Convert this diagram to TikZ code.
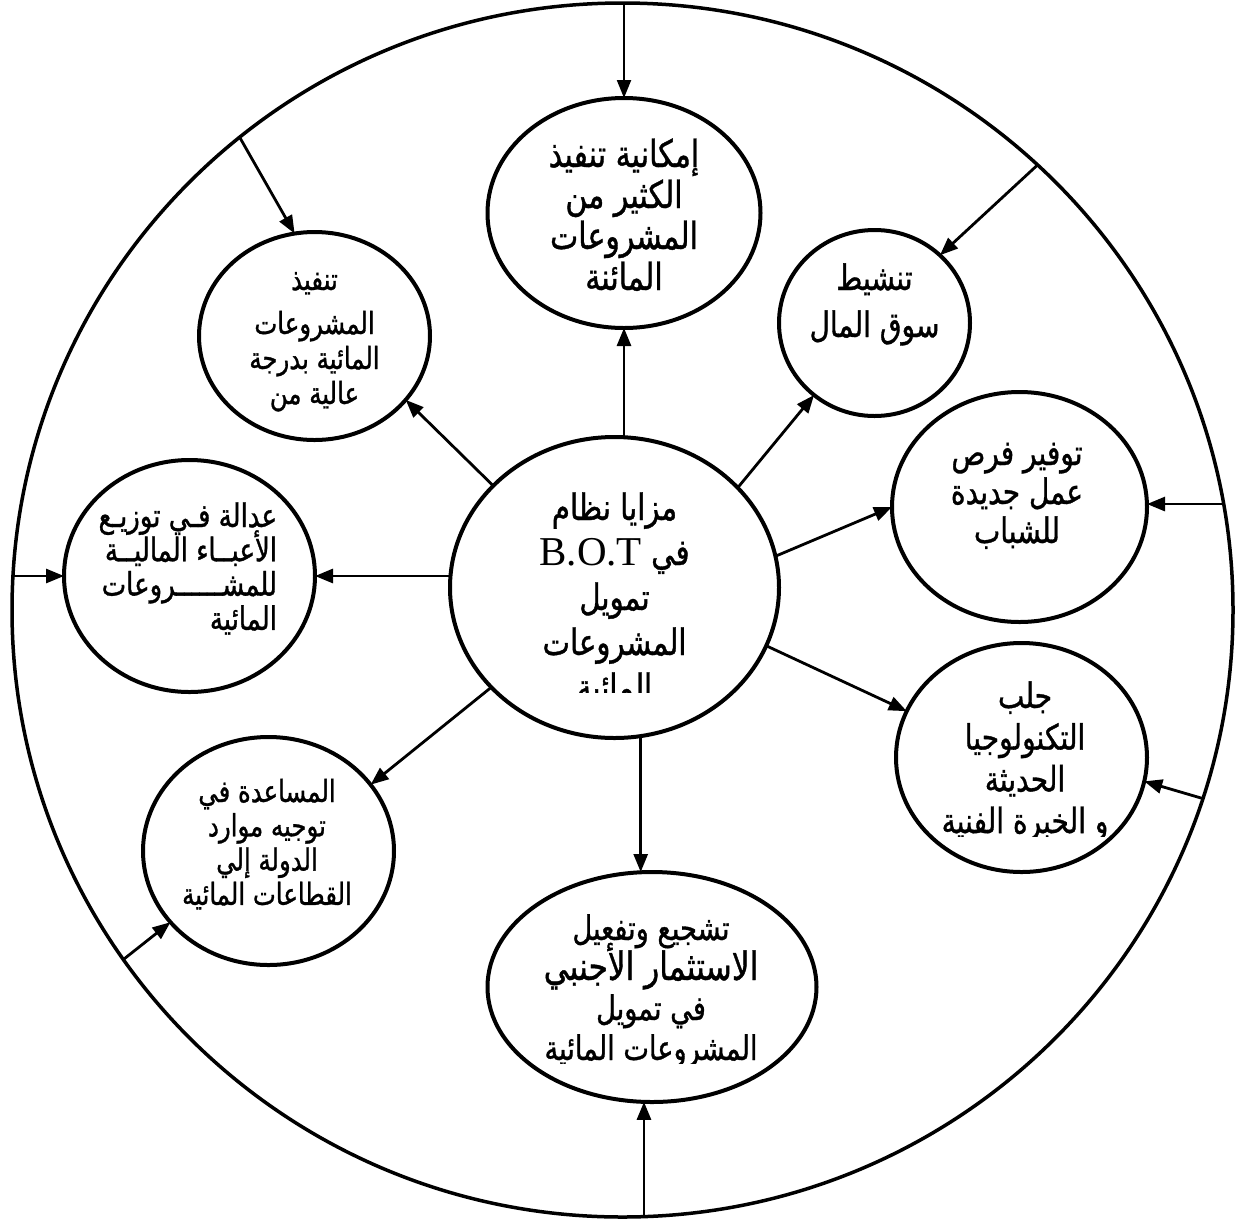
\documentclass[tikz,border=0pt]{standalone}
\usepackage{fontspec}
\usetikzlibrary{shapes.geometric,arrows.meta}
\newfontfamily\arfont[Script=Arabic,FakeStretch=0.8,FakeBold=1]{DejaVu Sans}
\newfontfamily\lafont{Liberation Serif}
\TeXXeTstate=1
% one right-to-left line
\newcommand\rl[1]{\beginR#1\endR}
% stacked lines, centred / right aligned, first baseline is the box baseline
\newcommand\ctrlines[2]{\vtop{\baselineskip=#1\relax\lineskiplimit=-1000pt\lineskip=0pt\halign{\hfil##\hfil\cr#2\crcr}}}
\newcommand\rgtlines[2]{\vtop{\baselineskip=#1\relax\lineskiplimit=-1000pt\lineskip=0pt\halign{\hfil##\cr#2\crcr}}}

\begin{document}
\begin{tikzpicture}[x=1pt,y=-1pt,
  bubble/.style={ellipse, draw, line width=4pt, inner sep=0pt, outer sep=0pt},
  txt/.style={anchor=base, inner sep=0pt, outer sep=0pt},
  conn/.style={line width=2.8pt, -{Triangle[length=18pt,width=14pt]}},
  thinconn/.style={line width=2.2pt, -{Triangle[length=18pt,width=14pt]}}]

\fill[white] (0,0) rectangle (1245,1219);
\useasboundingbox (0,0) rectangle (1245,1219);

% outer ring and the nine ellipses
\node[bubble, line width=3.5pt, minimum width=1221pt, minimum height=1214pt] (O) at (622.5,610) {};
\node[bubble, minimum width=329pt, minimum height=301pt] (C)  at (614.5,587.5) {};
\node[bubble, minimum width=273pt, minimum height=230pt] (T)  at (624,213) {};
\node[bubble, minimum width=231pt, minimum height=208pt] (TL) at (314.5,336) {};
\node[bubble, minimum width=191pt, minimum height=186pt] (TR) at (874.5,323) {};
\node[bubble, minimum width=255pt, minimum height=230pt] (R)  at (1019.5,507) {};
\node[bubble, minimum width=251pt, minimum height=232pt] (L)  at (189.5,576) {};
\node[bubble, minimum width=251pt, minimum height=229pt] (BR) at (1021.5,757.5) {};
\node[bubble, minimum width=251pt, minimum height=228pt] (BL) at (268.5,851) {};
\node[bubble, minimum width=329pt, minimum height=230pt] (B)  at (652,987) {};

% texts
\begin{scope}
  \clip (440,430) rectangle (790,692);
  \node[txt, font=\arfont\fontsize{36.5}{45}\selectfont] (Ct) at (614.5,520)
    {\ctrlines{45pt}{\rl{مزايا نظام}\cr
      \rl{في \beginL{\lafont\fontsize{41}{45}\selectfont B.O.T}\endL}\cr
      \rl{تمويل}\cr \rl{المشروعات}\cr \rl{المائية}}};
\end{scope}

\node[txt, font=\arfont\fontsize{37.5}{41}\selectfont] (Tt) at (624,167)
  {\ctrlines{41pt}{\rl{إمكانية تنفيذ}\cr \rl{الكثير من}\cr \rl{المشروعات}\cr \rl{المائنة}}};

\node[txt, font=\arfont\fontsize{30.5}{35}\selectfont] (TLt) at (314.5,290)
  {\ctrlines{35pt}{\rl{تنفيذ}\cr\noalign{\vskip 9pt}\rl{المشروعات}\cr \rl{المائية بدرجة}\cr \rl{عالية من}}};

\node[txt, font=\arfont\fontsize{35}{47}\selectfont] (TRt) at (874.5,290)
  {\ctrlines{47pt}{\rl{تنشيط}\cr \rl{سوق المال}}};

\node[txt, font=\arfont\fontsize{35}{39}\selectfont] (Rt) at (1017,465)
  {\ctrlines{39pt}{\rl{توفير فرص}\cr \rl{عمل جديدة}\cr \rl{للشباب}}};

\node[txt, anchor=base east, font=\arfont\fontsize{32.5}{34}\selectfont] (Lt) at (277,527)
  {\rgtlines{34.3pt}{\rl{عدالة فـي توزيـع}\cr \rl{الأعبــاء الماليــة}\cr \rl{للمشــــــروعات}\cr \rl{المائية}}};

\begin{scope}
  \clip (880,640) rectangle (1150,836);
  \node[txt, font=\arfont\fontsize{35}{42}\selectfont] (BRt) at (1025,708)
    {\ctrlines{41.7pt}{\rl{جلب}\cr \rl{التكنولوجيا}\cr \rl{الحديثة}\cr \rl{و الخبرة الفنية}}};
\end{scope}

\node[txt, font=\arfont\fontsize{30.5}{34}\selectfont] (BLt) at (267,802)
  {\ctrlines{34.3pt}{\rl{المساعدة في}\cr \rl{توجيه موارد}\cr \rl{الدولة إلي}\cr \rl{القطاعات المائية}}};

\begin{scope}
  \clip (480,870) rectangle (830,1063);
  \node[txt, font=\arfont\fontsize{34}{40}\selectfont] (Bt) at (651,940)
    {\ctrlines{40pt}{\rl{تشجيع وتفعيل}\cr
      \rl{\fontsize{39}{40}\selectfont الاستثمار الأجنبي}\cr
      \rl{في تمويل}\cr \rl{المشروعات المائية}}};
\end{scope}

% connectors from the centre outwards
\draw[conn] (T.south |- C.north) -- (T.south);
\draw[conn] (C.140.4) -- (TL.-35.2);
\draw[conn] (C.39.6) -- (TR.230.6);
\draw[conn] (C.11.8) -- (R.180);
\draw[conn] (C.west |- L.east) -- (L.east);
\draw[conn] (C.-21.4) -- (BR.158.2);
\draw[conn] (C.219.6) -- (BL.33);
\draw[conn] (C.-80.3) -- (C.-80.3 |- B.north);

% connectors from the outer ring inwards
\draw[thinconn] (T.north |- O.north) -- (T.north);
\draw[conn] (O.129.3) -- (TL.101.7);
\draw[conn] (O.47.8) -- (TR.46.9);
\draw[conn] (O.10) -- (O.10 -| R.east);
\draw[conn] (O.west |- L.west) -- (L.west);
\draw[conn] (O.-18.6) -- (BR.-11.5);
\draw[conn] (O.215.5) -- (BL.216.4);
\draw[conn] (B.-94 |- O.south) -- (B.-94);
\end{tikzpicture}
\end{document}
